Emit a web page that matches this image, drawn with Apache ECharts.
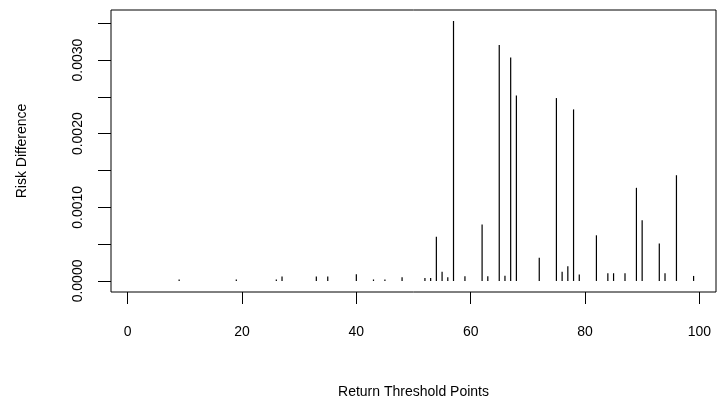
<!DOCTYPE html>
<html>
<head>
<meta charset="utf-8">
<script src="https://cdn.jsdelivr.net/npm/echarts@6/dist/echarts.min.js"></script>
<style>
html,body{margin:0;padding:0;background:#fff;}
#chart{width:717px;height:404px;}
</style>
</head>
<body>
<div id="chart"></div>
<script>
// Return threshold points (x) and risk difference (y)
const thresholds = [9,19,26,27,33,35,40,43,45,48,52,53,54,55,56,57,59,62,63,65,66,67,68,72,75,76,77,78,79,82,84,85,87,89,90,93,94,96,99];
const riskDiff = [0.00002,0.00002,0.00002,0.00006,0.00006,0.00006,0.00009,0.00002,0.00002,0.00005,0.00004,0.00004,0.0006,0.000125,0.00005,0.00353,0.000065,0.000768,0.000065,0.003206,0.00007,0.003034,0.00252,0.000316,0.002484,0.000125,0.0002,0.00233,0.000086,0.00062,0.000105,0.000105,0.000105,0.001265,0.000826,0.000508,0.000105,0.001436,0.000068];
const xTicks = [0,20,40,60,80,100];
const yTicks = [0,0.0005,0.001,0.0015,0.002,0.0025,0.003,0.0035];
const yLabels = [0,0.001,0.002,0.003];

const data = thresholds.map((t,i)=>[t, riskDiff[i]]);
const font = 'Liberation Sans, Arial, Helvetica, sans-serif';

const chart = echarts.init(document.getElementById('chart'), null, {renderer:'canvas'});
chart.setOption({
  animation:false,
  backgroundColor:'#fff',
  grid:{left:111, right:1, top:10, bottom:111, show:true, borderColor:'#000', borderWidth:1, backgroundColor:'transparent'},
  xAxis:{
    type:'value', min:-2.92, max:102.92,
    name:'Return Threshold Points', nameLocation:'middle', nameGap:93,
    nameTextStyle:{color:'#000', fontSize:14, fontFamily:font},
    axisLine:{show:false, onZero:false},
    axisTick:{show:true, length:12, lineStyle:{color:'#000', width:1}, customValues:xTicks},
    axisLabel:{color:'#000', fontSize:14, fontFamily:font, margin:33, customValues:xTicks, formatter:v=>String(v)},
    splitLine:{show:false}
  },
  yAxis:{
    type:'value', min:-0.00015, max:0.00368,
    name:'Risk Difference', nameLocation:'middle', nameGap:82, nameRotate:90,
    nameTextStyle:{color:'#000', fontSize:14, fontFamily:font},
    axisLine:{show:false, onZero:false},
    axisTick:{show:true, length:13, lineStyle:{color:'#000', width:1}, customValues:yTicks},
    axisLabel:{color:'#000', fontSize:14, fontFamily:font, margin:26, rotate:90, customValues:yLabels, formatter:v=>Number(v).toFixed(4)},
    splitLine:{show:false}
  },
  series:[{
    type:'custom',
    data:data,
    renderItem:function(params, api){
      const x = api.value(0), y = api.value(1);
      const p0 = api.coord([x,0]);
      const p1 = api.coord([x,y]);
      return {type:'line', shape:{x1:p0[0], y1:p0[1], x2:p1[0], y2:p1[1]}, style:{stroke:'#000', lineWidth:1.2}};
    }
  }]
});
</script>
</body>
</html>
